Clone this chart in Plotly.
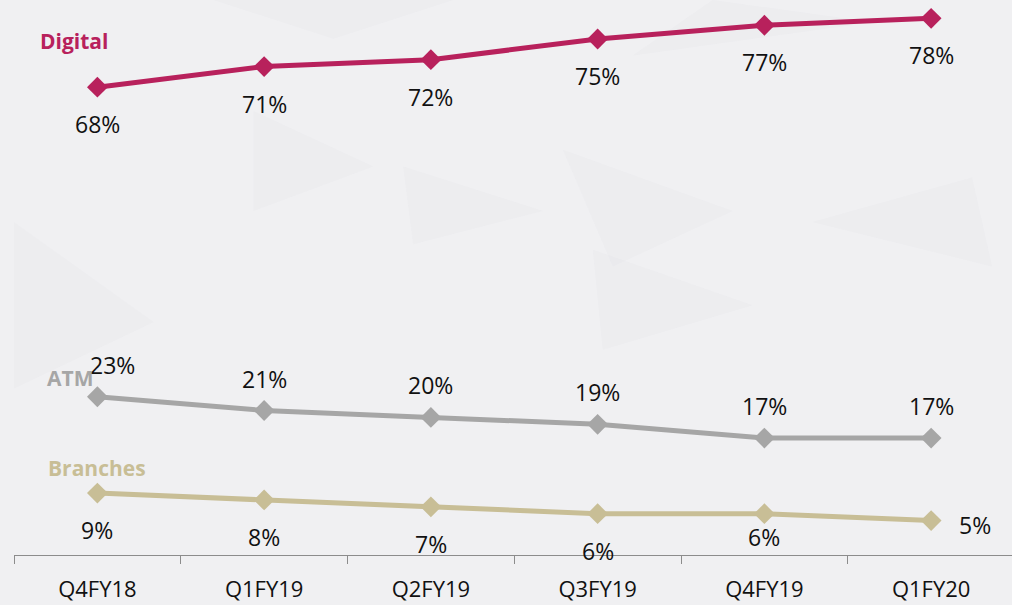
import plotly.graph_objects as go

# Transaction channel mix by quarter (% share)
quarters = ["Q4FY18", "Q1FY19", "Q2FY19", "Q3FY19", "Q4FY19", "Q1FY20"]
digital = [68, 71, 72, 75, 77, 78]
atm = [23, 21, 20, 19, 17, 17]
branches = [9, 8, 7, 6, 6, 5]

C_DIGITAL = "#B8215C"
C_ATM = "#A6A6A6"
C_BRANCH = "#C8BE96"
BG = "#F0F0F2"
FONT = "Open Sans"

fig = go.Figure()

for name, vals, col in [("Digital", digital, C_DIGITAL),
                        ("ATM", atm, C_ATM),
                        ("Branches", branches, C_BRANCH)]:
    fig.add_trace(go.Scatter(
        x=quarters, y=vals, name=name, mode="lines+markers",
        line=dict(color=col, width=5),
        marker=dict(symbol="diamond", size=16, color=col),
        showlegend=False, hoverinfo="skip",
    ))

annotations = []
lab_font = dict(family=FONT, size=23, color="#111111")

# Value labels: Digital below, ATM above, Branches below
for q, v in zip(quarters, digital):
    annotations.append(dict(x=q, y=v, text=f"{v}%", showarrow=False,
                            yshift=-37, font=lab_font))
for i, (q, v) in enumerate(zip(quarters, atm)):
    annotations.append(dict(x=q, y=v, text=f"{v}%", showarrow=False,
                            yshift=32, xshift=15 if i == 0 else 0, font=lab_font))
for i, (q, v) in enumerate(zip(quarters, branches)):
    if i == len(quarters) - 1:
        xs, ys = 44, -4
    elif i == 4:
        xs, ys = 0, -23
    else:
        xs, ys = 0, -37
    annotations.append(dict(x=q, y=v, text=f"{v}%", showarrow=False,
                            xshift=xs, yshift=ys, font=lab_font))

# Series names
for text, col, px, py in [("Digital", C_DIGITAL, 74, 41),
                          ("ATM", C_ATM, 70, 378),
                          ("Branches", C_BRANCH, 97, 468)]:
    annotations.append(dict(
        xref="paper", yref="paper",
        x=(px - 14) / 998, y=1 - py / 555,
        text=f"<b>{text}</b>", showarrow=False,
        xanchor="center", yanchor="middle",
        font=dict(family=FONT, size=21, color=col),
    ))

# Faint geometric watermark in the background
tri = [
    "M 0 0.60 L 0.14 0.42 L 0.0 0.30 Z",
    "M 0.39 0.70 L 0.53 0.62 L 0.40 0.56 Z",
    "M 0.55 0.73 L 0.72 0.62 L 0.60 0.52 Z",
    "M 0.58 0.55 L 0.74 0.45 L 0.59 0.37 Z",
    "M 0.80 0.60 L 0.98 0.52 L 0.96 0.68 Z",
    "M 0.62 0.90 L 0.86 0.96 L 0.70 1.0 Z",
    "M 0.20 1.0 L 0.32 0.93 L 0.44 1.0 Z",
    "M 0.24 0.80 L 0.36 0.70 L 0.24 0.62 Z",
]
shapes = [dict(type="path", path=p, xref="paper", yref="paper",
               fillcolor="rgba(200,200,206,0.07)", line=dict(width=0),
               layer="below") for p in tri]

fig.update_layout(
    width=1012, height=605,
    margin=dict(l=14, r=0, t=0, b=50),
    paper_bgcolor=BG, plot_bgcolor=BG,
    annotations=annotations, shapes=shapes,
    xaxis=dict(
        type="category", range=[-0.5, 5.485],
        showgrid=False, zeroline=False,
        showline=True, linecolor="#8C8C8C", linewidth=1,
        ticks="outside", tickson="boundaries", ticklen=8,
        tickcolor="#8C8C8C", tickwidth=1,
        tickfont=dict(family=FONT, size=22, color="#111111"),
        ticklabelstandoff=15,
    ),
    yaxis=dict(visible=False, range=[0, 80.67], fixedrange=True),
)

fig.write_html("out.html")
